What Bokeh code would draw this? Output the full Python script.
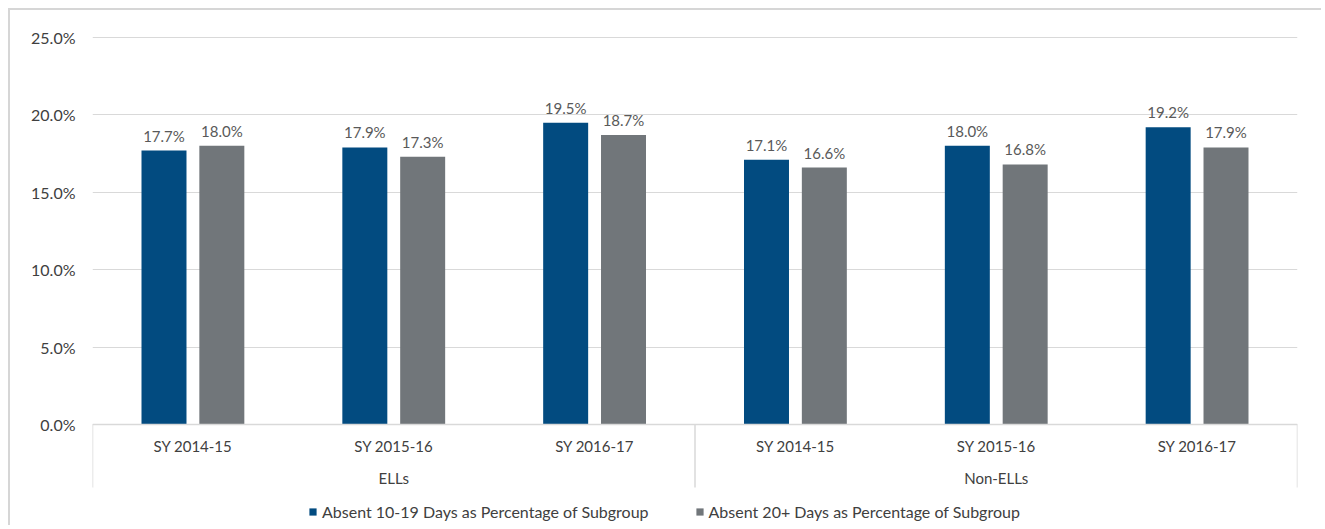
from bokeh.plotting import figure
from bokeh.models import (ColumnDataSource, FactorRange, Range1d, FixedTicker,
                          PrintfTickFormatter, LabelSet, Legend, LegendItem, Span)
from bokeh.transform import dodge
from bokeh.core.properties import value
from bokeh.embed import file_html
from bokeh.resources import INLINE

# ---- data ----
groups = ["ELLs", "Non-ELLs"]
years = ["SY 2014-15", "SY 2015-16", "SY 2016-17"]
absent_10_19 = [17.7, 17.9, 19.5, 17.1, 18.0, 19.2]
absent_20_plus = [18.0, 17.3, 18.7, 16.6, 16.8, 17.9]
series_names = ["Absent 10-19 Days as Percentage of Subgroup",
                "Absent 20+ Days as Percentage of Subgroup"]
y_ticks = [0, 5, 10, 15, 20, 25]

# ---- styles ----
BLUE = "#024b80"
GRAY = "#71767a"
GRID = "#d9d9d9"
FONT = "Lato"
px_per_unit = 15.48

factors = [(g, y) for g in groups for y in years]
src = ColumnDataSource(dict(
    x=factors,
    a=absent_10_19,
    b=absent_20_plus,
    la=["{:.1f}%".format(v) for v in absent_10_19],
    lb=["{:.1f}%".format(v) for v in absent_20_plus],
))

y_end = 25 + 5 / px_per_unit
frame_h = 527 - 32
y_start = y_end - frame_h / px_per_unit

p = figure(width=1313, height=517, output_backend="svg", toolbar_location=None,
           x_range=FactorRange(*factors, group_padding=0, factor_padding=0, range_padding=0),
           y_range=Range1d(y_start, y_end),
           min_border_left=82, min_border_right=26, min_border_top=22, min_border_bottom=0,
           x_axis_location=None, border_fill_color=None)
p.styles = {"border-top": "2px solid #d6d6d6", "border-left": "2px solid #d6d6d6",
            "margin-left": "8px", "margin-top": "8px"}
p.outline_line_color = None
p.xgrid.visible = False
p.ygrid.ticker = FixedTicker(ticks=y_ticks)
p.ygrid.grid_line_color = GRID
p.ygrid.grid_line_width = 1

ax = p.yaxis[0]
ax.ticker = FixedTicker(ticks=y_ticks)
ax.formatter = PrintfTickFormatter(format="%.1f%%")
ax.axis_line_color = None
ax.major_tick_line_color = None
ax.minor_tick_line_color = None
ax.major_label_standoff = 11
ax.major_label_text_font = FONT
ax.major_label_text_font_size = "16px"
ax.major_label_text_color = "#404040"

bw = 0.224
off = 0.144
r1 = p.vbar(x=dodge("x", -off, range=p.x_range), top="a", width=bw, source=src,
            fill_color=BLUE, line_color=None)
r2 = p.vbar(x=dodge("x", off, range=p.x_range), top="b", width=bw, source=src,
            fill_color=GRAY, line_color=None)

for ycol, tcol, o in (("a", "la", -off), ("b", "lb", off)):
    p.add_layout(LabelSet(x=dodge("x", o, range=p.x_range), y=ycol,
                          text=tcol, source=src, text_align="center", text_baseline="middle",
                          y_offset=15, text_font=value(FONT), text_font_size="15px",
                          text_color="#595959"))

# axis line at 0 and category separators
p.add_layout(Span(location=0, dimension="width", line_color=GRID, line_width=1.5))
sep_bottom = -(487 - 424) / px_per_unit
sep_left = ColumnDataSource(dict(x=[(g, years[0]) for g in groups]))
sep_right = ColumnDataSource(dict(x=[(groups[-1], years[-1])]))
for s, o in ((sep_left, -0.5), (sep_right, 0.5)):
    p.segment(x0=dodge("x", o, range=p.x_range), x1=dodge("x", o, range=p.x_range),
              y0=0, y1=sep_bottom, source=s, line_color=GRID, line_width=1.5)

# category labels
lab_src = ColumnDataSource(dict(x=factors, t=[f[1] for f in factors]))
p.text(x="x", y=-(445 - 424) / px_per_unit, text="t", source=lab_src,
       text_align="center", text_baseline="middle", text_font=value(FONT),
       text_font_size="15px", text_color="#404040")
grp_src = ColumnDataSource(dict(x=groups, t=groups))
p.text(x="x", y=-(477 - 424) / px_per_unit, text="t", source=grp_src,
       text_align="center", text_baseline="middle", text_font=value(FONT),
       text_font_size="15px", text_color="#404040")

legend = Legend(items=[LegendItem(label=series_names[0], renderers=[r1]),
                       LegendItem(label=series_names[1], renderers=[r2])],
                orientation="horizontal", location=(216, 6),
                glyph_width=9, glyph_height=9, label_standoff=5, spacing=46,
                padding=0, margin=0, border_line_color=None, background_fill_alpha=0,
                label_text_font=FONT, label_text_font_size="16px",
                label_text_color="#404040", label_height=20)
p.add_layout(legend)

open("out.html", "w").write(file_html(p, INLINE))
